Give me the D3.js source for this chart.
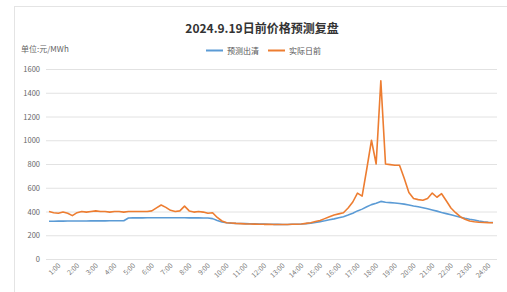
<!DOCTYPE html>
<html><head><meta charset="utf-8">
<script src="https://cdn.jsdelivr.net/npm/d3@7/dist/d3.min.js"></script>
<style>
html,body{margin:0;padding:0;background:#fff;}
svg{display:block;font-family:"Noto Sans CJK SC","Noto Sans",sans-serif;}
</style></head>
<body><svg id="c" width="507" height="292"></svg>
<script>
const title = "2024.9.19日前价格预测复盘";
const unitLabel = "单位:元/MWh";
const seriesNames = ["预测出清", "实际日前"];
const times = ["0:15","0:30","0:45","1:00","1:15","1:30","1:45","2:00","2:15","2:30","2:45","3:00","3:15","3:30","3:45","4:00","4:15","4:30","4:45","5:00","5:15","5:30","5:45","6:00","6:15","6:30","6:45","7:00","7:15","7:30","7:45","8:00","8:15","8:30","8:45","9:00","9:15","9:30","9:45","10:00","10:15","10:30","10:45","11:00","11:15","11:30","11:45","12:00","12:15","12:30","12:45","13:00","13:15","13:30","13:45","14:00","14:15","14:30","14:45","15:00","15:15","15:30","15:45","16:00","16:15","16:30","16:45","17:00","17:15","17:30","17:45","18:00","18:15","18:30","18:45","19:00","19:15","19:30","19:45","20:00","20:15","20:30","20:45","21:00","21:15","21:30","21:45","22:00","22:15","22:30","22:45","23:00","23:15","23:30","23:45","24:00"];
const tickLabels = ["1:00","2:00","3:00","4:00","5:00","6:00","7:00","8:00","9:00","10:00","11:00","12:00","13:00","14:00","15:00","16:00","17:00","18:00","19:00","20:00","21:00","22:00","23:00","24:00"];
const yTicks = [0,200,400,600,800,1000,1200,1400,1600];
const forecast = [318,318,319,319,320,320,320,320,320,321,321,321,321,322,322,322,322,345,346,346,346,347,347,347,348,348,348,347,347,347,346,346,346,345,345,340,325,312,305,302,300,299,298,297,296,295,294,293,292,292,291,291,292,293,295,298,302,308,315,322,330,338,347,356,370,385,405,420,440,458,470,485,478,475,472,468,462,455,447,440,432,423,413,403,392,382,372,362,352,343,335,328,320,314,310,307];
const actual = [400,390,385,395,385,365,390,400,395,400,405,400,400,395,400,400,395,400,400,400,400,400,405,430,455,435,410,400,405,445,405,395,400,395,385,390,350,320,305,303,300,298,296,295,294,293,292,292,291,290,290,291,292,293,295,300,305,315,325,340,355,370,380,390,430,480,555,530,760,1000,800,1500,800,795,790,790,680,560,510,500,495,510,555,520,550,490,430,390,356,335,320,314,310,308,306,305];

const svg = d3.select("#c");
const x = d3.scaleLinear().domain([0, times.length - 1]).range([49, 493]);
const y = d3.scaleLinear().domain([0, 1600]).range([259, 69]);

svg.append("rect").attr("x",14.5).attr("y",6.5).attr("width",500).attr("height",290)
  .attr("fill","#fff").attr("stroke","#e4e4e4");

svg.append("text").attr("x",262).attr("y",33).attr("text-anchor","middle")
  .attr("font-size",12).attr("font-weight","bold").attr("fill","#333").text(title);

svg.append("text").attr("x",21).attr("y",52).attr("font-size",8).attr("fill","#666").text(unitLabel);

// grid
svg.append("g").selectAll("line").data(yTicks).join("line")
  .attr("x1",46).attr("x2",497).attr("y1",d=>y(d)+0.5).attr("y2",d=>y(d)+0.5)
  .attr("stroke","#e2e2e2").attr("stroke-width",1);
svg.append("g").selectAll("text").data(yTicks).join("text")
  .attr("x",40).attr("y",d=>y(d)+3).attr("text-anchor","end")
  .attr("font-size",7.5).attr("fill","#666").text(d=>d);

// x labels
const tickIdx = tickLabels.map(l => times.indexOf(l));
svg.append("g").selectAll("text").data(tickIdx).join("text")
  .attr("transform", d => `translate(${x(d)-2},${266}) rotate(-45)`)
  .attr("text-anchor","end").attr("font-size",7).attr("fill","#777")
  .text((d,i)=>tickLabels[i]);

const line = d3.line().x((d,i)=>x(i)).y(d=>y(d));
svg.append("path").datum(forecast).attr("d",line).attr("fill","none")
  .attr("stroke","#5b9bd5").attr("stroke-width",1.6).attr("stroke-linejoin","round");
svg.append("path").datum(actual).attr("d",line).attr("fill","none")
  .attr("stroke","#ed7d31").attr("stroke-width",1.6).attr("stroke-linejoin","round");

// legend
const lg = svg.append("g").attr("font-size",8).attr("fill","#555");
const colors = ["#5b9bd5","#ed7d31"];
const lx = [206, 268];
seriesNames.forEach((n,i)=>{
  lg.append("line").attr("x1",lx[i]).attr("x2",lx[i]+17).attr("y1",50.5).attr("y2",50.5)
    .attr("stroke",colors[i]).attr("stroke-width",2);
  lg.append("text").attr("x",lx[i]+21).attr("y",53.5).text(n);
});
</script></body></html>
